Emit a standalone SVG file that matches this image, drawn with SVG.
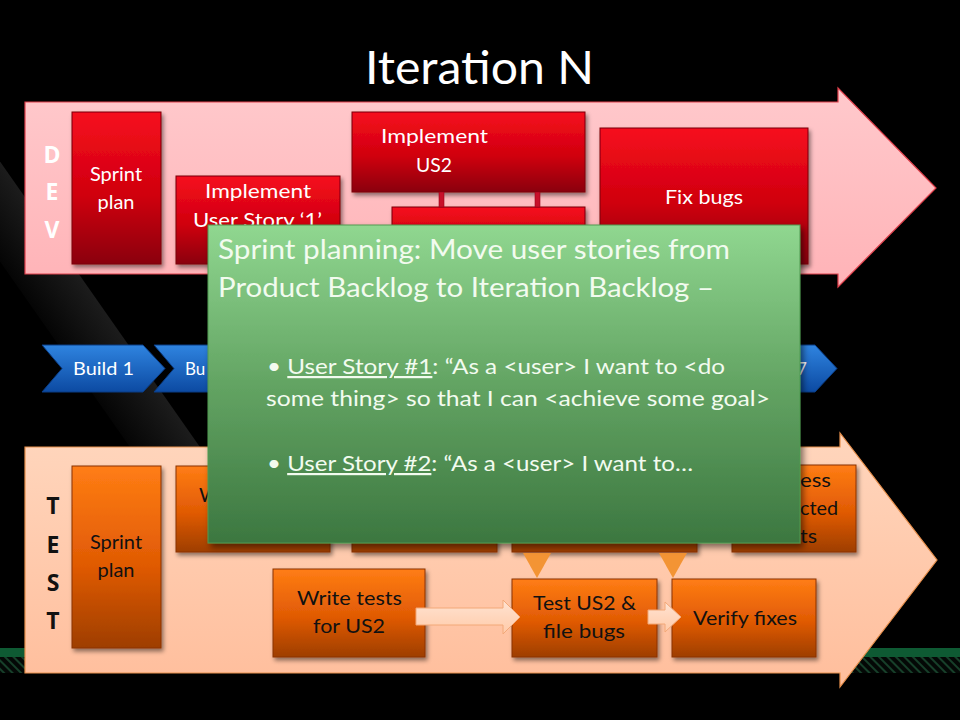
<svg xmlns="http://www.w3.org/2000/svg" width="960" height="720" viewBox="0 0 960 720">
<defs>
  <linearGradient id="gStripe" gradientUnits="userSpaceOnUse" x1="40" y1="340" x2="97" y2="300">
    <stop offset="0" stop-color="#000"/>
    <stop offset="1" stop-color="#1c1c1c"/>
  </linearGradient>
  <linearGradient id="gPink" x1="0" y1="0" x2="0" y2="1">
    <stop offset="0" stop-color="#ffc9cc"/>
    <stop offset="1" stop-color="#ffb3b7"/>
  </linearGradient>
  <linearGradient id="gPeach" x1="0" y1="0" x2="0" y2="1">
    <stop offset="0" stop-color="#ffd6bd"/>
    <stop offset="1" stop-color="#ffbe9c"/>
  </linearGradient>
  <linearGradient id="gRed" x1="0" y1="0" x2="0" y2="1">
    <stop offset="0" stop-color="#f60d1e"/>
    <stop offset="0.55" stop-color="#d0000e"/>
    <stop offset="1" stop-color="#8a0008"/>
  </linearGradient>
  <linearGradient id="gOrange" x1="0" y1="0" x2="0" y2="1">
    <stop offset="0" stop-color="#ff7d14"/>
    <stop offset="0.55" stop-color="#e05a04"/>
    <stop offset="1" stop-color="#9e3e02"/>
  </linearGradient>
  <linearGradient id="gBlue" x1="0" y1="0" x2="0" y2="1">
    <stop offset="0" stop-color="#2f84e0"/>
    <stop offset="1" stop-color="#0c4aa2"/>
  </linearGradient>
  <linearGradient id="gGreen" x1="0" y1="0" x2="0" y2="1">
    <stop offset="0" stop-color="#90d790"/>
    <stop offset="0.5" stop-color="#63a463"/>
    <stop offset="1" stop-color="#3c7740"/>
  </linearGradient>
  <linearGradient id="gBlk" x1="0" y1="0" x2="0" y2="1">
    <stop offset="0" stop-color="#ffe3d2"/>
    <stop offset="1" stop-color="#ffcaa8"/>
  </linearGradient>
  <pattern id="hatch" width="6" height="6" patternUnits="userSpaceOnUse" patternTransform="rotate(-45)">
    <rect width="6" height="6" fill="#040806"/>
    <rect width="2" height="6" fill="#17402a"/>
  </pattern>
  <filter id="sh" x="-10%" y="-10%" width="130%" height="140%">
    <feDropShadow dx="2" dy="3" stdDeviation="2" flood-color="#000" flood-opacity="0.45"/>
  </filter>
  <filter id="shPop" x="-5%" y="-5%" width="115%" height="115%">
    <feDropShadow dx="3" dy="4" stdDeviation="3" flood-color="#000" flood-opacity="0.5"/>
  </filter>
</defs>
<style>
  .f{font-family:Lato,"Open Sans","Liberation Sans",sans-serif}
  .wt{fill:#ffffff}
  .bk{fill:#111111}
  .redbox{fill:url(#gRed);stroke:#7a000c;stroke-width:1}
  .orbox{fill:url(#gOrange);stroke:#8a3200;stroke-width:1}
  .chev{fill:url(#gBlue);stroke:#0a3c84;stroke-width:1}
  .lbl{font-size:20px}
  .lane{font-family:"Open Sans","DejaVu Sans",sans-serif;font-size:23px;font-weight:700}
  .blk{fill:url(#gBlk);stroke:#f2a878;stroke-width:1}
  .tri{fill:#f39434}
</style>

<!-- background -->
<rect x="0" y="0" width="960" height="720" fill="#000"/>
<polygon points="-78,150 -8,150 209,460 139,460" fill="url(#gStripe)"/>
<rect x="0" y="648" width="960" height="9" fill="#0e5a33"/>
<rect x="0" y="657" width="960" height="16" fill="url(#hatch)"/>

<!-- title -->
<text class="f wt" x="365" y="84" font-size="46" textLength="229" lengthAdjust="spacingAndGlyphs">Iteration N</text>

<!-- DEV lane -->
<g id="dev-lane">
  <path d="M25,102 H838 V88 L936,188 L838,287 V274 H25 Z" fill="url(#gPink)" stroke="#e0404c" stroke-width="1.2"/>
  <text class="wt lane" x="52" y="163" text-anchor="middle">D</text>
  <text class="wt lane" x="52" y="200" text-anchor="middle">E</text>
  <text class="wt lane" x="52" y="238" text-anchor="middle">V</text>
</g>

<!-- TEST lane -->
<g id="test-lane">
  <path d="M25,447 H840 V433 L937,560 L840,687 V673 H25 Z" fill="url(#gPeach)" stroke="#e8904c" stroke-width="1.2"/>
  <text class="bk lane" x="53" y="514" text-anchor="middle">T</text>
  <text class="bk lane" x="53" y="553" text-anchor="middle">E</text>
  <text class="bk lane" x="53" y="591" text-anchor="middle">S</text>
  <text class="bk lane" x="53" y="629" text-anchor="middle">T</text>
</g>

<!-- DEV nodes -->
<g id="dev-sprint-plan">
  <rect class="redbox" x="72" y="112" width="89" height="152" filter="url(#sh)"/>
  <text class="f wt lbl" x="116" y="181" text-anchor="middle">Sprint</text>
  <text class="f wt lbl" x="116" y="209" text-anchor="middle">plan</text>
</g>
<g id="dev-implement-us1">
  <rect class="redbox" x="176" y="176" width="164" height="88" filter="url(#sh)"/>
  <text class="f wt lbl" x="205" y="198" textLength="106" lengthAdjust="spacingAndGlyphs">Implement</text>
  <text class="f wt lbl" x="193" y="227" textLength="129" lengthAdjust="spacingAndGlyphs">User Story ‘1’</text>
</g>
<g id="dev-us2-sub">
  <rect class="redbox" x="392" y="207" width="193" height="57" filter="url(#sh)"/>
</g>
<g id="dev-implement-us2">
  <rect class="redbox" x="352" y="112" width="233" height="80" filter="url(#sh)"/>
  <text class="f wt lbl" x="381" y="143" textLength="107" lengthAdjust="spacingAndGlyphs">Implement</text>
  <text class="f wt lbl" x="416" y="172" textLength="36" lengthAdjust="spacingAndGlyphs">US2</text>
</g>
<g id="dev-fix-bugs">
  <rect class="redbox" x="600" y="128" width="208" height="136" filter="url(#sh)"/>
  <text class="f wt lbl" x="665" y="204" textLength="78" lengthAdjust="spacingAndGlyphs">Fix bugs</text>
</g>

<!-- Builds -->
<g id="builds">
  <path class="chev" d="M42,345 H143 L165,368.5 L143,392 H42 L62,368.5 Z"/>
  <path class="chev" d="M154,345 H255 L277,368.5 L255,392 H154 L174,368.5 Z"/>
  <path class="chev" d="M266,345 H367 L389,368.5 L367,392 H266 L286,368.5 Z"/>
  <path class="chev" d="M378,345 H479 L501,368.5 L479,392 H378 L398,368.5 Z"/>
  <path class="chev" d="M490,345 H591 L613,368.5 L591,392 H490 L510,368.5 Z"/>
  <path class="chev" d="M602,345 H703 L725,368.5 L703,392 H602 L622,368.5 Z"/>
  <path class="chev" d="M714,345 H815 L837,368.5 L815,392 H714 L734,368.5 Z"/>
  <text class="f wt" x="73" y="375" font-size="17" textLength="61" lengthAdjust="spacingAndGlyphs">Build 1</text>
  <text class="f wt" x="185" y="375" font-size="17">Bu</text>
  <text class="f wt" x="797" y="375" font-size="17">7</text>
</g>

<!-- TEST nodes -->
<g id="test-sprint-plan">
  <rect class="orbox" x="72" y="466" width="89" height="182" filter="url(#sh)"/>
  <text class="f bk lbl" x="116" y="549" text-anchor="middle">Sprint</text>
  <text class="f bk lbl" x="116" y="577" text-anchor="middle">plan</text>
</g>
<g id="test-box-a">
  <rect class="orbox" x="176" y="466" width="154" height="86" filter="url(#sh)"/>
  <text class="f bk lbl" x="199" y="502">W</text>
</g>
<g id="test-box-b">
  <rect class="orbox" x="352" y="466" width="145" height="86" filter="url(#sh)"/>
</g>
<g id="test-box-c">
  <rect class="orbox" x="512" y="466" width="185" height="86" filter="url(#sh)"/>
</g>
<g id="test-regress">
  <rect class="orbox" x="732" y="465" width="124" height="87" filter="url(#sh)"/>
  <text class="f bk lbl" x="800" y="487" textLength="31" lengthAdjust="spacingAndGlyphs">ess</text>
  <text class="f bk lbl" x="800" y="515" textLength="38" lengthAdjust="spacingAndGlyphs">cted</text>
  <text class="f bk lbl" x="800" y="543" textLength="17" lengthAdjust="spacingAndGlyphs">ts</text>
</g>
<g id="test-write-us2">
  <rect class="orbox" x="273" y="569" width="152" height="88" filter="url(#sh)"/>
  <text class="f bk lbl" x="297" y="605" textLength="105" lengthAdjust="spacingAndGlyphs">Write tests</text>
  <text class="f bk lbl" x="313" y="633" textLength="72" lengthAdjust="spacingAndGlyphs">for US2</text>
</g>
<g id="test-test-us2">
  <rect class="orbox" x="512" y="579" width="145" height="78" filter="url(#sh)"/>
  <text class="f bk lbl" x="533" y="610" textLength="103" lengthAdjust="spacingAndGlyphs">Test US2 &amp;</text>
  <text class="f bk lbl" x="543" y="638" textLength="82" lengthAdjust="spacingAndGlyphs">file bugs</text>
</g>
<g id="test-verify">
  <rect class="orbox" x="672" y="579" width="144" height="78" filter="url(#sh)"/>
  <text class="f bk lbl" x="693" y="625" textLength="104" lengthAdjust="spacingAndGlyphs">Verify fixes</text>
</g>

<!-- connectors -->
<g id="connectors">
  <rect x="439" y="192" width="5" height="15" fill="#c8102a" stroke="#9a0018" stroke-width="0.6"/>
  <rect x="535" y="192" width="5" height="15" fill="#c8102a" stroke="#9a0018" stroke-width="0.6"/>
  <polygon class="tri" points="523,553 551,553 537,578"/>
  <polygon class="tri" points="659,553 687,553 673,578"/>
  <path class="blk" d="M416,608 H503 V600 L520,617 L503,634 V625 H416 Z"/>
  <path class="blk" d="M648,610 H665 V602 L681,617 L665,632 V624 H648 Z"/>
</g>

<!-- Popup callout -->
<g id="popup">
  <rect x="208" y="225" width="592" height="318" fill="url(#gGreen)" stroke="#4f9a50" stroke-width="1" filter="url(#shPop)"/>
  <g class="f" fill="#f2fbef">
    <text x="218" y="259" font-size="27" textLength="512" lengthAdjust="spacingAndGlyphs">Sprint planning: Move user stories from</text>
    <text x="218" y="297" font-size="27" textLength="496" lengthAdjust="spacingAndGlyphs">Product Backlog to Iteration Backlog –</text>
    <text x="267" y="374" font-size="22" textLength="458" lengthAdjust="spacingAndGlyphs">• <tspan text-decoration="underline">User Story #1</tspan>: “As a &lt;user&gt; I want to &lt;do</text>
    <text x="266" y="406" font-size="22" textLength="504" lengthAdjust="spacingAndGlyphs">some thing&gt; so that I can &lt;achieve some goal&gt;</text>
    <text x="267" y="471" font-size="22" textLength="426" lengthAdjust="spacingAndGlyphs">• <tspan text-decoration="underline">User Story #2</tspan>: “As a &lt;user&gt; I want to…</text>
  </g>
</g>
</svg>
